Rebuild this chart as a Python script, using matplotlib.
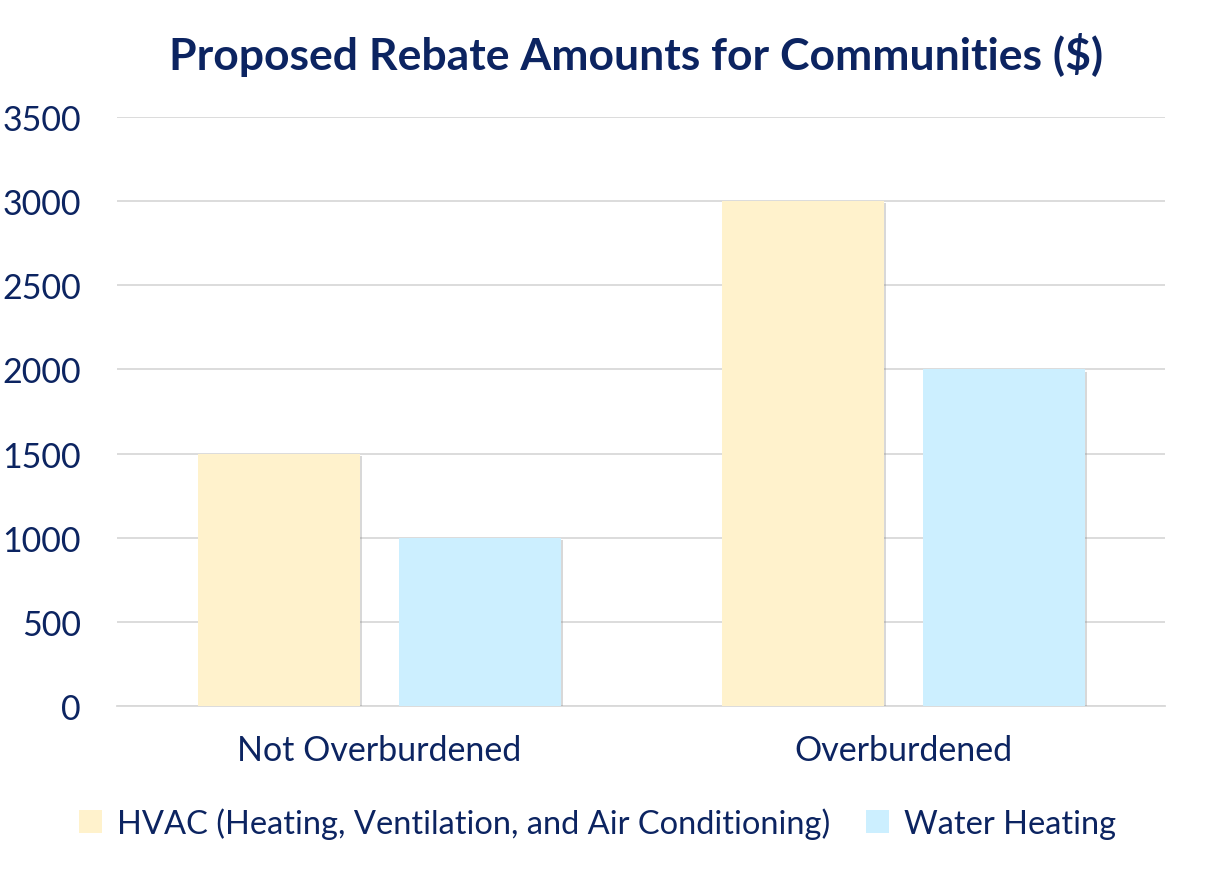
import matplotlib
matplotlib.use("Agg")
from matplotlib import pyplot as plt
from matplotlib import patheffects as pe
import numpy as np

categories = ["Not Overburdened", "Overburdened"]
hvac = [1500, 3000]
water = [1000, 2000]
series_labels = ["HVAC (Heating, Ventilation, and Air Conditioning)", "Water Heating"]
yticks = [0, 500, 1000, 1500, 2000, 2500, 3000, 3500]

navy = "#0c2461"
plt.rcParams["font.family"] = ["Lato", "DejaVu Sans"]

fig = plt.figure(figsize=(12.27, 8.7), dpi=100)
ax = fig.add_axes([117 / 1227, 1 - 707 / 870, (1165 - 117) / 1227, (707 - 118) / 870])

x = np.arange(len(categories))
w = 0.309
b1 = ax.bar(x - 0.19, hvac, w, color="#fff2cc", label=series_labels[0], zorder=3)
b2 = ax.bar(x + 0.192, water, w, color="#ccefff", label=series_labels[1], zorder=3)

ax.set_xlim(-0.5, 1.5)
ax.set_ylim(0, 3500)
ax.set_yticks(yticks)
ax.set_xticks(x)
ax.set_xticklabels(categories)
ax.grid(axis="y", color="#d9d9d9", linewidth=1.3, zorder=0)
for s in ["top", "right", "left"]:
    ax.spines[s].set_visible(False)
ax.spines["bottom"].set_color("#d9d9d9")
ax.spines["bottom"].set_linewidth(1.3)
ax.tick_params(axis="both", length=0, labelsize=24.5, labelcolor=navy)
ax.tick_params(axis="y", pad=26)
ax.tick_params(axis="x", pad=20)

fig.text(0.518, 1 - 55 / 870, "Proposed Rebate Amounts for Communities ($)", ha="center", va="center",
         fontsize=32, fontweight="bold", color=navy)

fig.legend(loc="center", bbox_to_anchor=(0.487, 1 - 824 / 870), ncol=2, frameon=False,
           fontsize=23.5, labelcolor=navy, handlelength=0.7, handleheight=0.7, handletextpad=0.45,
           columnspacing=1.1)

# soft shadow on bars only (applied after the legend so the legend keys stay flat)
shadow = [pe.SimplePatchShadow(offset=(1.5, -1.5), shadow_rgbFace="#808080", alpha=0.3), pe.Normal()]
for b in list(b1) + list(b2):
    b.set_path_effects(shadow)

fig.savefig("out.png", dpi=100)
